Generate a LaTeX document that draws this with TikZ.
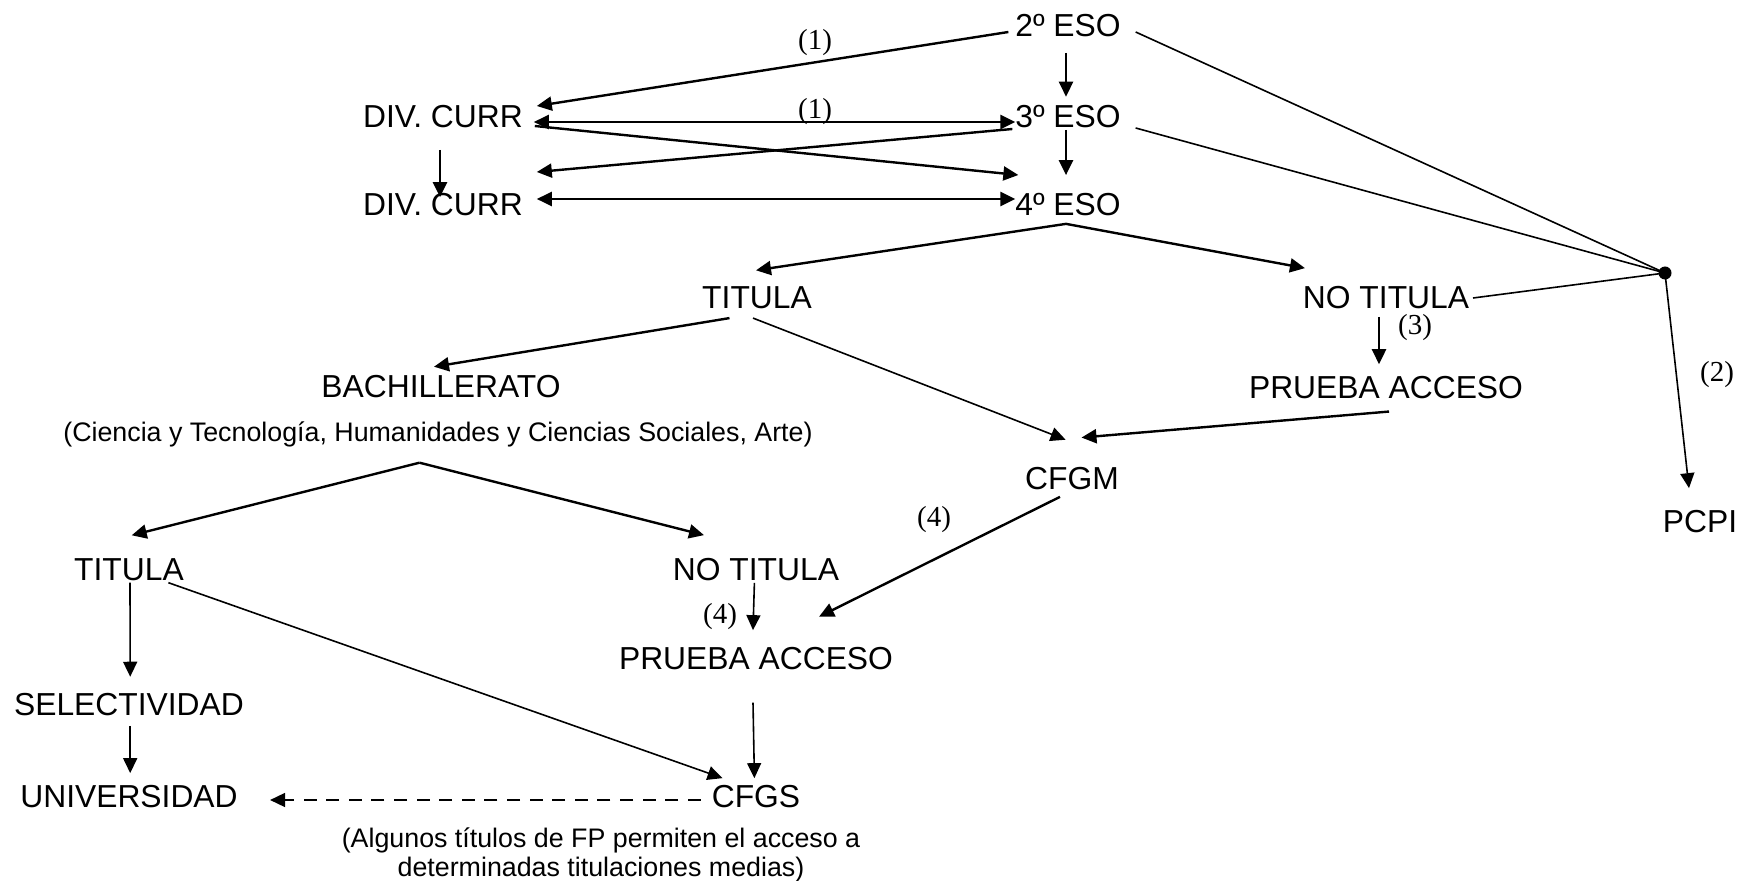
\documentclass[tikz,border=0pt]{standalone}
\usepackage{fontspec}
\setmainfont{Liberation Sans}
\newfontfamily\notefont{Liberation Serif}
\usetikzlibrary{arrows.meta,positioning,calc}

\begin{document}
\begin{tikzpicture}[x=0.5pt, y=-0.5pt, >={Triangle[length=7.5pt,width=7pt]}, inner sep=0pt, outer sep=0pt, font=\fontsize{15.9}{19}\selectfont]
	\tikzset{sub/.style={font=\fontsize{13.4}{14.5}\selectfont},
	         num/.style={font=\notefont\fontsize{14.5}{17}\selectfont},
	         link/.style={->, line width=1.2pt},
	         thinlink/.style={->, line width=0.8pt},
	         hubline/.style={line width=0.8pt}}
	\useasboundingbox (0,0) rectangle (1740,881);

	% ESO
	\node (eso2) at (1068,26) {2º ESO};
	\node (eso3) [on grid, below=45.5pt of eso2] {3º ESO};
	\node (eso4) [on grid, below=44pt of eso3] {4º ESO};
	\node (divA) [on grid, left=312.5pt of eso3] {DIV. CURR};
	\node (divB) [on grid, left=312.5pt of eso4] {DIV. CURR};
	\node[circle, fill=black, minimum size=6.5pt] (hub) at (1665,273) {};
	\node (pcpi) at (1700,522) {PCPI};

	% After 4º ESO
	\node (titA) at (757,298) {TITULA};
	\node (notitA) [on grid, right=314.5pt of titA] {NO TITULA};
	\node (pruebaA) [on grid, below=44.75pt of notitA] {PRUEBA ACCESO};
	\node (bach) at (441,387) {BACHILLERATO};
	\node[sub, anchor=base] (bachsub) at (438,442) {(Ciencia y Tecnología, Humanidades y Ciencias Sociales, Arte)};
	\node (cfgm) at (1072,479) {CFGM};

	% After bachillerato
	\node (titB) at (129,570) {TITULA};
	\node (notitB) [on grid, right=313.5pt of titB] {NO TITULA};
	\node (pruebaB) [on grid, below=44.5pt of notitB] {PRUEBA ACCESO};
	\node (selec) [on grid, below=67.5pt of titB] {SELECTIVIDAD};
	\node (univ) [on grid, below=46pt of selec] {UNIVERSIDAD};
	\node (cfgs) [on grid, right=313.5pt of univ] {CFGS};
	\node[sub, align=center] (note) at (601,855) {(Algunos títulos de FP permiten el acceso a\\determinadas titulaciones medias)};

	% Notes
	\node[num] (n1a) at (815,43) {(1)};
	\node[num] (n1b) at (815,112) {(1)};
	\node[num] (n3) at (1415,328) {(3)};
	\node[num] (n2) at (1717,375) {(2)};
	\node[num] (n4a) at (934,520) {(4)};
	\node[num] (n4b) at (720,617) {(4)};

	\coordinate (apex4) at ($(eso4.south)+(-2,7.6)$);
	\coordinate (apexB) at ($(bachsub.base)+(-18.5,20.7)$);

	% Transitions
	\path
		($(eso2.south)+(-2,15.6)$)	edge [link]	($(eso3.north)+(-2,-9)$)
		($(eso3.south)+(-2,1.6)$)	edge [link]	($(eso4.north)+(-2,-18.6)$)
		($(eso2.west)+(-7,6)$)	edge [link]	($(divA.east)+(14,-11)$)
		($(divA.east)+(11,5)$)	edge [link,<->]	($(eso3.west)+(0,5)$)
		($(divA.east)+(12,9)$)	edge [link]	($(eso4.west)+(3,-30)$)
		($(eso3.west)+(-3,12)$)	edge [link]	($(divB.east)+(14,-33)$)
		($(divA.south)+(-3,21.6)$)	edge [link]	($(divB.north)+(-3,3.4)$)
		($(divB.east)+(14,-6)$)	edge [link,<->]	($(eso4.west)+(0,-6)$)
		;
	\draw[hubline] ($(eso2.east)+(15,6)$) -- (hub.center);
	\draw[hubline] ($(eso3.east)+(15,11)$) -- (hub.center);
	\draw[hubline] ($(notitA.east)+(4,0)$) -- (hub.center);
	\path
		(hub.center)	edge [thinlink]	($(pcpi.north)+(-11,-22.6)$)
		(apex4)	edge [link]	($(titA.north)+(-1,-16.6)$)
		(apex4)	edge [link]	($(notitA.north west)+(2,-18.6)$)
		($(notitA.south)+(-7,7.6)$)	edge [link]	($(pruebaA.north)+(-7,-12)$)
		($(titA.south)+(-27.5,9)$)	edge [link]	($(bach.north)+(-7,-9)$)
		($(titA.south)+(-4,9)$)	edge [thinlink]	($(cfgm.north)+(-6.4,-28)$)
		($(pruebaA.south)+(3,12.8)$)	edge [link]	($(cfgm.north)+(9.5,-30.2)$)
		($(cfgm.south)+(-12,6.6)$)	edge [link]	($(pruebaB.north)+(63,-31)$)
		(apexB)	edge [link]	($(titB.north)+(2.7,-23.6)$)
		(apexB)	edge [link]	($(notitB.north)+(-52,-23.6)$)
		($(titB.south)+(1,1.6)$)	edge [thinlink]	($(selec.north)+(1.2,-17)$)
		($(titB.south)+(39.4,1.6)$)	edge [thinlink]	($(cfgs.north)+(-33.4,-7.6)$)
		($(notitB.south)+(-1.6,1.6)$)	edge [thinlink]	($(pruebaB.north)+(-3,-17.6)$)
		($(pruebaB.south)+(-3,32.3)$)	edge [thinlink]	($(cfgs.north)+(-1.6,-7.6)$)
		($(selec.south)+(1.2,9.6)$)	edge [thinlink]	($(univ.north)+(1.2,-12.6)$)
		($(cfgs.west)+(-11,3)$)	edge [thinlink, dash pattern=on 6.5pt off 4.8pt]	($(univ.east)+(32.4,3)$)
		;
\end{tikzpicture}
\end{document}
